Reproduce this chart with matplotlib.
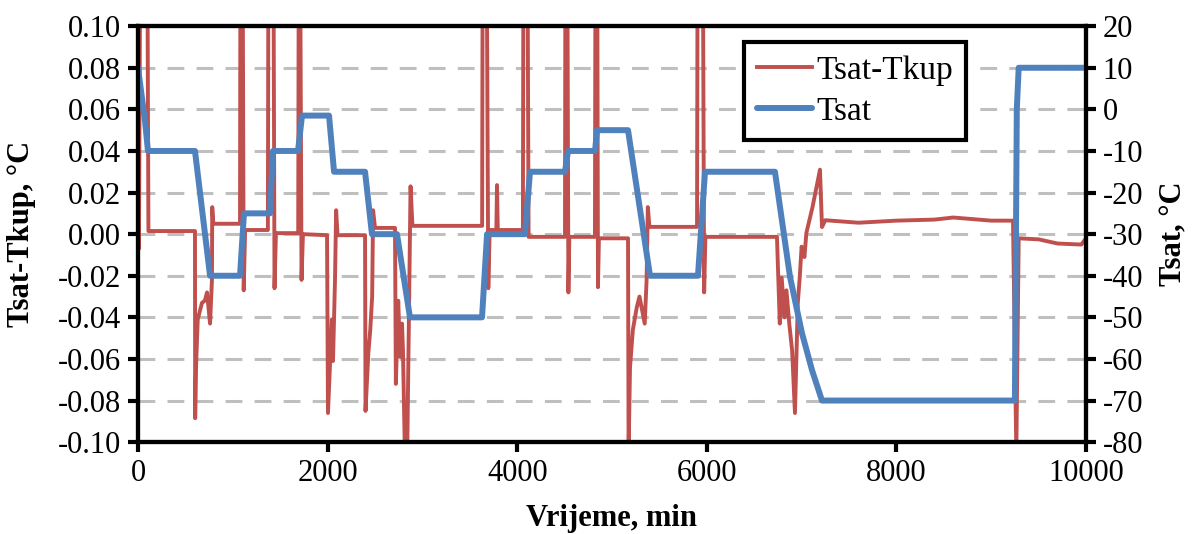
"""Tsat-Tkup i Tsat u vremenu, dvije y-osi."""

import matplotlib

matplotlib.use("Agg")
import matplotlib.pyplot as plt

plt.rcParams["font.family"] = ["Liberation Serif", "DejaVu Serif"]
plt.rcParams["axes.unicode_minus"] = False
plt.rcParams["font.size"] = 22

# razlika Tsat-Tkup (lijeva os), ocitano s grafa
diff_t = [0, 10, 22, 100, 110, 601, 603, 612, 630, 675, 705, 728, 760, 780, 783, 795,
          1076, 1080, 1105, 1115, 1130, 1370, 1375, 1430, 1440, 1455, 1690, 1695, 1712,
          1725, 1740, 1994, 2004, 2045, 2057, 2078, 2090, 2105, 2395, 2400, 2430, 2450,
          2470, 2480, 2500, 2711, 2720, 2745, 2765, 2785, 2795, 2815, 2840, 2875, 2895,
          3630, 3635, 3680, 3695, 3710, 3780, 3787, 3795, 4060, 4065, 4110, 4120, 4504,
          4508, 4530, 4540, 4550, 4820, 4825, 4845, 4852, 4862, 5169, 5175, 5190, 5220,
          5262, 5290, 5345, 5365, 5378, 5395, 5897, 5902, 5960, 5972, 5985, 6740, 6770,
          6790, 6820, 6840, 6870, 6900, 6930, 6960, 6980, 7000, 7030, 7050, 7115, 7194,
          7215, 7250, 7600, 8000, 8400, 8600, 9000, 9230, 9265, 9290, 9500, 9700, 9950,
          10000]
diff_v = [0.12, -0.007, 0.12, 0.12, 0.0015, 0.0015, -0.0885, -0.064, -0.041, -0.033,
          -0.032, -0.028, -0.043, -0.022, 0.013, 0.005,
          0.005, 0.12, 0.12, -0.027, 0.002, 0.002, 0.12, 0.12, -0.026, 0.0005, 0.0005,
          0.12, 0.12,
          -0.022, 0.0, -0.0005, -0.086, -0.041, -0.061, -0.022, 0.0115, -0.0005, -0.0005,
          -0.085, -0.057, -0.046,
          -0.030, 0.0115, 0.003, 0.003, -0.072, -0.032, -0.059, -0.043, -0.056, -0.105,
          -0.105, 0.023, 0.004,
          0.004, 0.12, 0.12, -0.026, 0.002, 0.002, 0.0236, 0.002, 0.002, 0.12, 0.12,
          -0.0013, -0.0013,
          0.12, 0.12, -0.028, -0.0013, -0.0013, 0.12, 0.12, -0.0255, -0.002, -0.002,
          -0.105, -0.064, -0.046,
          -0.035, -0.030, -0.043, -0.022, 0.013, 0.0035, 0.0035, 0.12, 0.12, -0.028,
          -0.0013, -0.0013, -0.043,
          -0.021, -0.040, -0.027, -0.043, -0.056, -0.086, -0.033, -0.021, -0.006, -0.011,
          0.0005, 0.013, 0.031,
          0.0034, 0.0067, 0.0055, 0.0065, 0.007, 0.008, 0.0065, 0.0065, -0.105, -0.002,
          -0.0025, -0.0045, -0.005,
          -0.002]

# Tsat (desna os)
tsat_t = [0, 75, 105, 601, 760, 1076, 1118, 1392, 1424, 1688, 1730, 2015, 2068, 2395,
          2468, 2732, 2869, 3629, 3682, 4082, 4135, 4504, 4536, 4821, 4842, 5169, 5401,
          5907, 5981, 6719, 6878, 7004, 7110, 7215, 9250, 9270, 9290, 10000]
tsat_v = [10, -3, -10, -10, -40, -40, -25, -25, -10, -10, -1.5, -1.5, -15, -15,
          -30, -30, -50, -50, -30, -30, -15, -15, -10, -10, -5, -5, -40,
          -40, -15, -15, -40.3, -53.8, -62.7, -70, -70, 0, 10, 10]

left_ticks = [-0.10, -0.08, -0.06, -0.04, -0.02, 0.00, 0.02, 0.04, 0.06, 0.08, 0.10]
right_ticks = [-80, -70, -60, -50, -40, -30, -20, -10, 0, 10, 20]
x_ticks = [0, 2000, 4000, 6000, 8000, 10000]

fig = plt.figure(figsize=(12, 5.34), dpi=100)
ax = fig.add_axes([0.115, 0.172, 0.79, 0.779])
ax2 = ax.twinx()

for y in left_ticks[1:-1]:
    ax.axhline(y, color="#BFBFBF", linewidth=2.2, dashes=(5.5, 4), zorder=0)

l1, = ax.plot(diff_t, diff_v, color="#C0504D", linewidth=2.8, label="Tsat-Tkup")
l2, = ax2.plot(tsat_t, tsat_v, color="#4F81BD", linewidth=4.3, label="Tsat",
               solid_capstyle="round", solid_joinstyle="round")

ax.set_xlim(0, 10000)
ax.set_ylim(-0.10, 0.10)
ax2.set_ylim(-80, 20)
ax.set_xticks(x_ticks)
ax.set_yticks(left_ticks)
ax.set_yticklabels([f"{v:.2f}" for v in left_ticks])
ax2.set_yticks(right_ticks)

for a in (ax, ax2):
    for s in a.spines.values():
        s.set_linewidth(3)
    a.tick_params(direction="out", length=7, width=3, labelsize=22, pad=5)

ax.set_xlabel("Vrijeme, min", fontweight="bold", labelpad=12)
ax.set_ylabel("Tsat-Tkup, °C", fontweight="bold", labelpad=16)
ax2.set_ylabel("Tsat, °C", fontweight="bold", labelpad=12)

leg = ax2.legend([l1, l2], ["Tsat-Tkup", "Tsat"], loc="upper left",
                 bbox_to_anchor=(0.639, 0.962), fancybox=False, framealpha=1,
                 edgecolor="black", fontsize=24, handlelength=1.65, handletextpad=0.12,
                 borderpad=0.4, labelspacing=0.32, borderaxespad=0)
leg.get_frame().set_linewidth(3)

fig.savefig("out.png", dpi=100)
